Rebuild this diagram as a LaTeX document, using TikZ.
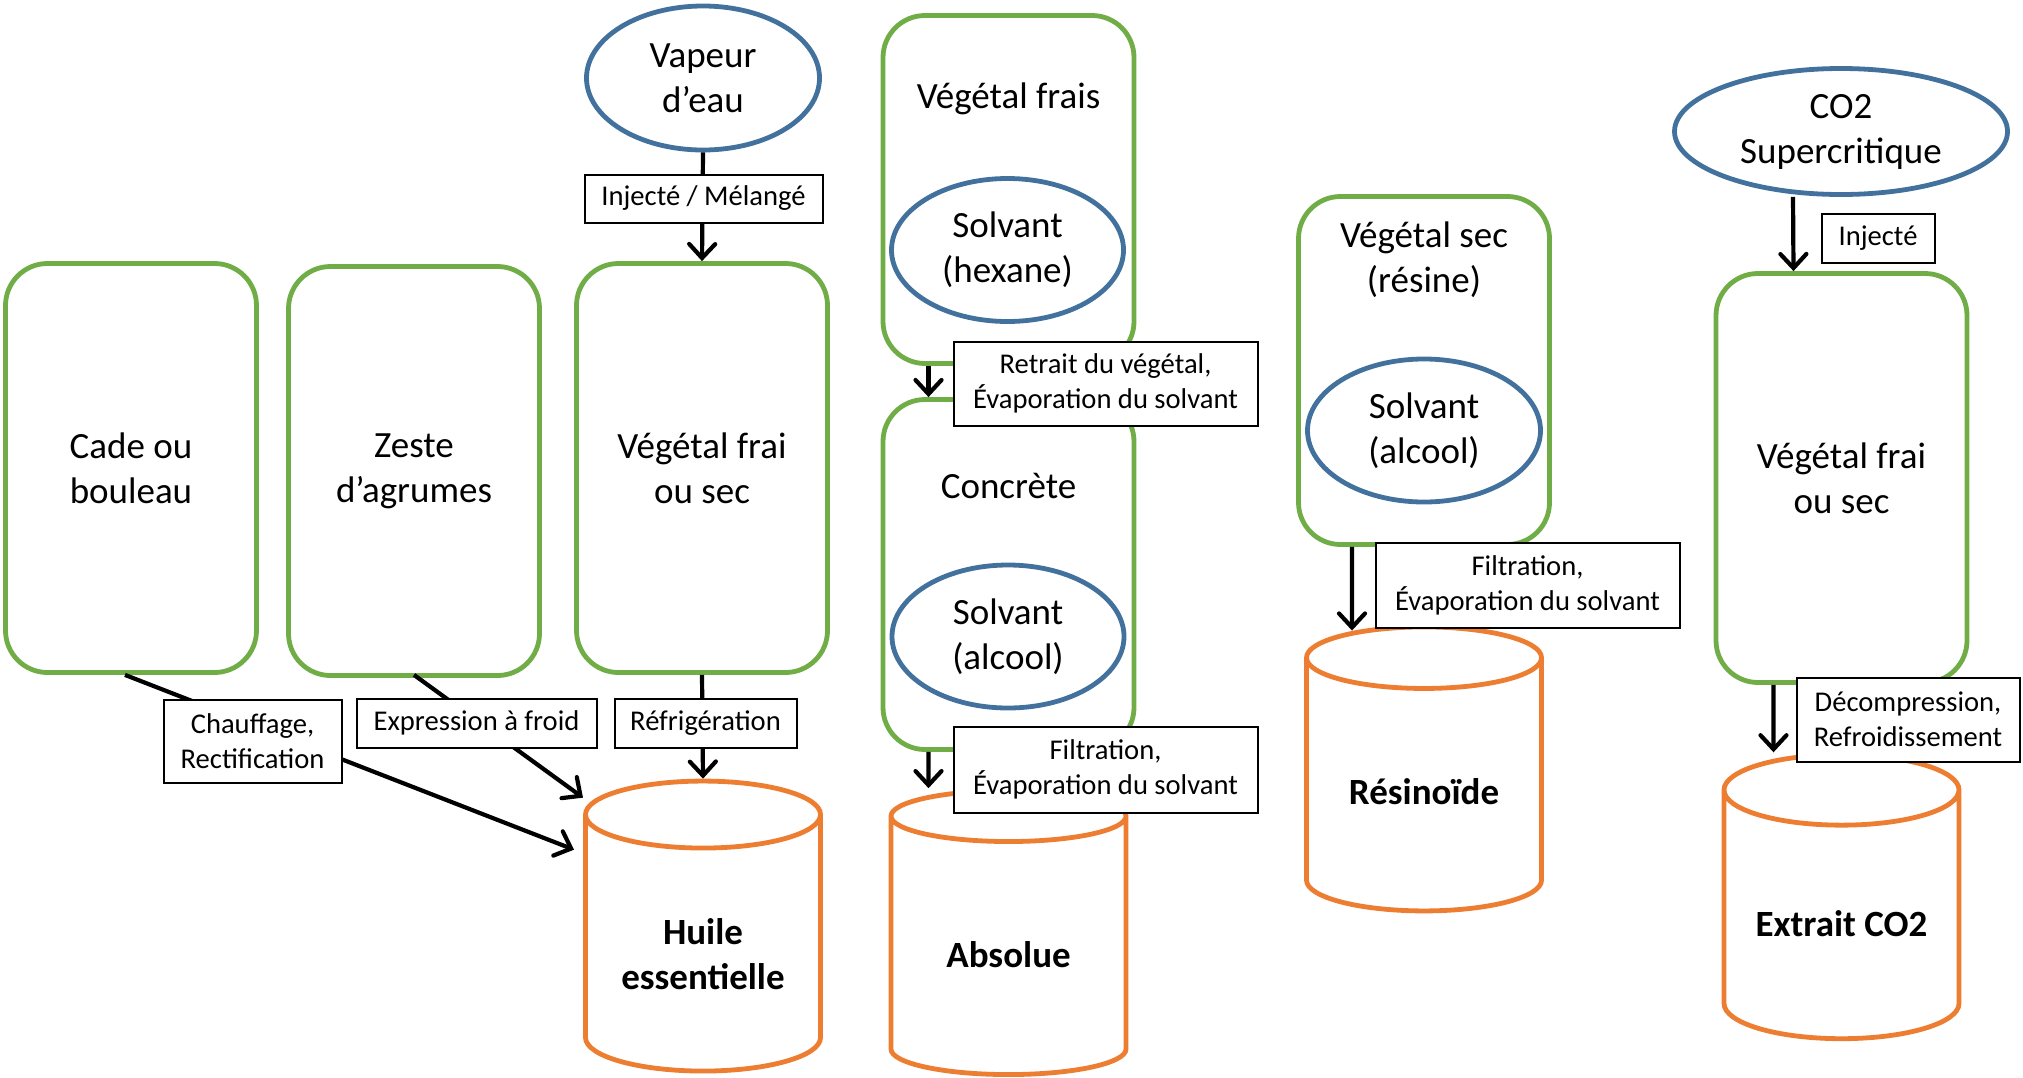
\documentclass[tikz,border=0pt]{standalone}
\usepackage{fontspec}
\setmainfont{Carlito}
\usetikzlibrary{shapes.geometric,arrows.meta,calc}
\definecolor{grn}{HTML}{70AD47}
\definecolor{blu}{HTML}{41719C}
\definecolor{org}{HTML}{ED7D31}
\tikzset{
  gbox/.style={draw=grn, line width=2.4pt, rounded corners=21pt, minimum width=125.5pt, inner sep=0pt, align=center, font=\fontsize{18.5}{22.5}\selectfont},
  txt/.style={inner sep=0pt, align=center, font=\fontsize{18.5}{22.5}\selectfont},
  btxt/.style={inner sep=0pt, align=center, font=\bfseries\fontsize{18.5}{22.5}\selectfont},
  bell/.style={ellipse, draw=blu, line width=2.4pt, inner sep=0pt, align=center, font=\fontsize{18.5}{22.5}\selectfont},
  cyl/.style={cylinder, shape border rotate=90, draw=org, line width=2.4pt, aspect=0.41, minimum width=117.5pt, inner sep=0pt, align=center, font=\bfseries\fontsize{18.5}{22.5}\selectfont},
  lbl/.style={draw=black, line width=1pt, fill=white, align=center, inner sep=0pt, font=\fontsize{14.3}{17.5}\selectfont},
  arr/.style={line width=2.1pt, line join=round, -{Straight Barb[length=7pt,width=13pt,line cap=round]}},
}
\begin{document}
\begin{tikzpicture}[x=0.5pt,y=-0.5pt]
\useasboundingbox (0,0) rectangle (2023,1077);

% column 1-3
\node[gbox, minimum height=204.5pt] (A) at (131,468) {Cade ou\\bouleau};
\node[gbox, minimum height=204.5pt] (B) at (414,471) {Zeste\\d’agrumes};
\node[gbox, minimum height=204.5pt] (C) at (702,468) {Végétal frai\\ou sec};
\node[bell, minimum width=116.5pt, minimum height=72pt] (vap) at (703,78) {Vapeur\\d’eau};
\node[cyl, minimum height=145pt] (huile) at (703,944) {\phantom{Huile}\\\phantom{essentielle}};
\node[btxt] (huilet) at (703,954) {Huile\\essentielle};

% column 4
\node[gbox, minimum height=174pt] (vf) at (1008.5,189.5) {};
\node[txt] (vft) at (1008.5,99) {Végétal frais};
\node[bell, minimum width=116pt, minimum height=71.5pt] (hex) at (1007.5,250) {Solvant\\(hexane)};
\node[gbox, minimum height=175pt] (cc) at (1008.5,574.5) {};
\node[txt] (cct) at (1008.5,486) {Concrète};
\node[bell, minimum width=116pt, minimum height=71.5pt] (alc1) at (1008,636.5) {Solvant\\(alcool)};
\node[cyl, minimum height=142pt] (abs) at (1008.5,946.5) {\phantom{Absolue}};
\node[btxt] (abst) at (1008.5,955) {Absolue};

% column 5
\node[gbox, minimum height=174pt] (vs) at (1424,370.5) {};
\node[txt] (vst) at (1424,260) {Végétal sec\\(résine)};
\node[bell, minimum width=116.5pt, minimum height=71.5pt] (alc2) at (1424,430.5) {Solvant\\(alcool)};
\node[cyl, minimum height=142pt] (res) at (1424,785.5) {\phantom{Résinoïde}};
\node[btxt] (rest) at (1424,792) {Résinoïde};

% column 6
\node[bell, minimum width=166.5pt, minimum height=63pt] (co2) at (1841,131.5) {CO2\\Supercritique};
\node[gbox, minimum height=204.5pt] (vfs) at (1841.5,478) {Végétal frai\\ou sec};
\node[cyl, minimum height=142pt] (ext) at (1841.5,915.5) {\phantom{Extrait CO2}};
\node[btxt] (extt) at (1841.5,924) {Extrait CO2};

% connectors
\draw[arr] (vap.south) -- (C.north);
\draw[arr] ([xshift=-3pt]A.south) -- ($(huile.north)+(-129,71)$);
\draw[arr] ([yshift=1.5pt]B.south) -- ($(huile.north)+(-120,19)$);
\draw[arr] (C.south) -- (huile.north);
\draw[arr] ([xshift=-40pt]vf.south) -- ([xshift=-40pt]cc.north);
\draw[arr] ([xshift=-40pt]cc.south) -- ([xshift=-40pt]abs.north);
\draw[arr] ([xshift=-36pt]vs.south) -- ([xshift=-36pt,yshift=-3pt]res.north);
\draw[arr] ([xshift=-24pt]co2.south) -- ([xshift=-24pt]vfs.north);
\draw[arr] ([xshift=-34pt]vfs.south) -- ([xshift=-34pt]ext.north);

% labels
\node[lbl, minimum width=119pt, minimum height=24pt] (l1) at (703.5,198.5) {Injecté / Mélangé};
\node[lbl, minimum width=89pt, minimum height=41.5pt] (l2) at (252.5,741) {Chauffage,\\Rectification};
\node[lbl, minimum width=120pt, minimum height=24.5pt] (l3) at (476.5,723) {Expression à froid};
\node[lbl, minimum width=91pt, minimum height=24.5pt] (l4) at (705.5,723) {Réfrigération};
\node[lbl, minimum width=152pt, minimum height=42pt] (l5) at (1105.5,383.5) {Retrait du végétal,\\Évaporation du solvant};
\node[lbl, minimum width=152pt, minimum height=43pt] (l6) at (1105.5,769.5) {Filtration,\\Évaporation du solvant};
\node[lbl, minimum width=152pt, minimum height=42.5pt] (l7) at (1527.5,585) {Filtration,\\Évaporation du solvant};
\node[lbl, minimum width=56.5pt, minimum height=24.5pt] (l8) at (1878,238) {Injecté};
\node[lbl, minimum width=111.5pt, minimum height=42pt] (l9) at (1908,719.5) {Décompression,\\Refroidissement};
\end{tikzpicture}
\end{document}
